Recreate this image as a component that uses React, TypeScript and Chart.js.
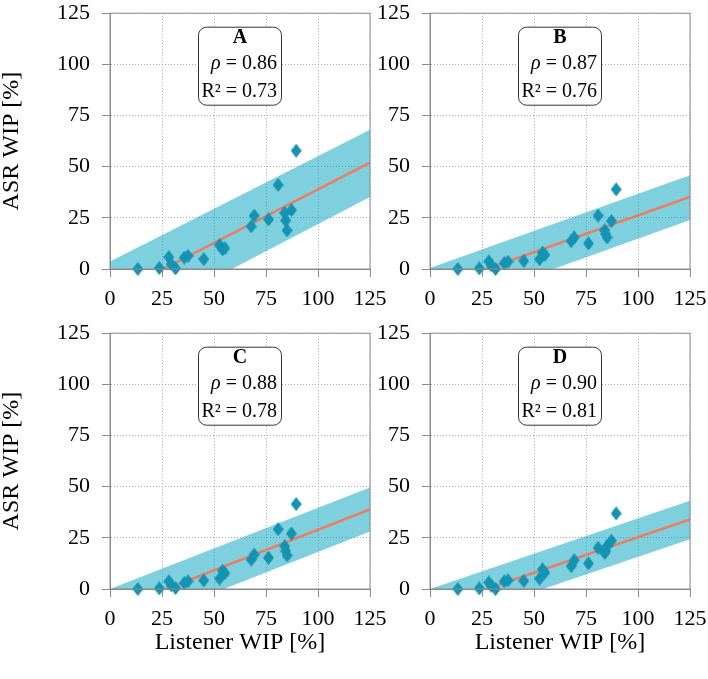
import React, { useEffect, useRef } from 'react';
import { Chart, registerables } from 'chart.js';

Chart.register(...registerables);

// ---------- data ----------
const listenerWIP = [13.4, 23.7, 28.3, 29.4, 31.5, 35.7, 37.5, 45.1, 52.7, 54.1, 55.2, 67.9, 69.3, 76.2, 80.8, 84.0, 84.5, 85.1, 87.2, 89.5];
const asrWipA = [0, 0.5, 5.8, 2.4, 0.3, 5.6, 6.4, 4.8, 11.6, 9.6, 10.1, 20.8, 26.1, 24.2, 41.1, 27.4, 23.7, 18.9, 28.8, 57.8];
const asrWipB = [0, 0.3, 3.7, 1.8, 0, 2.9, 3.5, 4.0, 4.8, 8.0, 6.9, 13.6, 15.4, 12.5, 26.1, 18.9, 17.0, 15.4, 23.4, 38.9];
const asrWipC = [0, 0.3, 3.7, 1.8, 0.5, 2.9, 3.7, 4.2, 5.1, 8.9, 7.7, 14.4, 16.8, 15.3, 29.2, 20.9, 18.5, 16.4, 27.1, 41.5];
const asrWipD = [0, 0.3, 3.2, 1.6, 0, 3.7, 4.2, 4.0, 5.1, 9.6, 8.0, 11.2, 14.0, 12.5, 20.1, 17.6, 18.5, 21.0, 23.6, 36.9];

const panelLabels = ['A', 'B', 'C', 'D'];
const rhoValues = ['0.86', '0.87', '0.88', '0.90'];
const r2Values = ['0.73', '0.76', '0.78', '0.81'];

const fitX = [0, 125];
const fitStartY = [-13.5, -9.8, -10.7, -9.4];
const fitEndY = [52.0, 35.2, 38.9, 34.0];
const bandUpperStart = [3.7, 0.5, 0.0, 0.0];
const bandUpperEnd = [68.0, 45.8, 49.6, 43.1];
const bandLowerStart = [-31.1, -21.7, -21.9, -18.7];
const bandLowerEnd = [35.2, 24.0, 28.1, 24.3];

const axisMin = 0;
const axisMax = 125;
const tickStep = 25;

const yTitle = 'ASR WIP [%]';
const xTitle = 'Listener WIP [%]';

// ---------- styles ----------
const MARKER = '#1493b2';
const BAND = 'rgba(0,162,192,0.5)';
const FIT = '#ef7b5b';
const FRAME = '#8a8a8a';
const GRID = '#a8a8a8';
const FONT = '"Liberation Serif", "Times New Roman", serif';

const seriesList = [asrWipA, asrWipB, asrWipC, asrWipD];

const layouts = [
  { left: 0, top: -12, width: 400, height: 322, padRight: 30, xH: 41, yTitle: true, xTitle: false },
  { left: 320, top: -12, width: 400, height: 322, padRight: 30, xH: 41, yTitle: false, xTitle: false },
  { left: 0, top: 308, width: 400, height: 371, padRight: 30, xH: 90, yTitle: true, xTitle: true },
  { left: 320, top: 308, width: 400, height: 371, padRight: 30, xH: 90, yTitle: false, xTitle: true },
];

function makeDiamond(): HTMLCanvasElement {
  const c = document.createElement('canvas');
  c.width = 11;
  c.height = 14;
  const g = c.getContext('2d')!;
  g.fillStyle = MARKER;
  g.beginPath();
  g.moveTo(5.5, 0);
  g.lineTo(11, 7);
  g.lineTo(5.5, 14);
  g.lineTo(0, 7);
  g.closePath();
  g.fill();
  return c;
}

function roundRect(ctx: CanvasRenderingContext2D, x: number, y: number, w: number, h: number, r: number) {
  ctx.beginPath();
  ctx.moveTo(x + r, y);
  ctx.lineTo(x + w - r, y);
  ctx.arcTo(x + w, y, x + w, y + r, r);
  ctx.lineTo(x + w, y + h - r);
  ctx.arcTo(x + w, y + h, x + w - r, y + h, r);
  ctx.lineTo(x + r, y + h);
  ctx.arcTo(x, y + h, x, y + h - r, r);
  ctx.lineTo(x, y + r);
  ctx.arcTo(x, y, x + r, y, r);
  ctx.closePath();
}

function Panel({ idx }: { idx: number }) {
  const ref = useRef<HTMLCanvasElement | null>(null);
  const L = layouts[idx];

  useEffect(() => {
    if (!ref.current) return;
    const ys = seriesList[idx];
    const points = listenerWIP.map((x, i) => ({ x, y: ys[i] }));
    const fit = [
      { x: fitX[0], y: fitStartY[idx] },
      { x: fitX[1], y: fitEndY[idx] },
    ];
    const upper = [
      { x: fitX[0], y: bandUpperStart[idx] },
      { x: fitX[1], y: bandUpperEnd[idx] },
    ];
    const lower = [
      { x: fitX[0], y: bandLowerStart[idx] },
      { x: fitX[1], y: bandLowerEnd[idx] },
    ];

    const annot = {
      id: 'annot' + idx,
      afterDatasetsDraw(chart: any) {
        const { ctx, chartArea } = chart;
        const { left, right, top, bottom } = chartArea;
        ctx.save();
        // frame
        ctx.strokeStyle = FRAME;
        ctx.lineWidth = 1;
        ctx.strokeRect(left, top, right - left, bottom - top);
        // box
        const cx = (left + right) / 2;
        roundRect(ctx, cx - 41.5, top + 14, 83, 78, 8);
        ctx.fillStyle = '#ffffff';
        ctx.fill();
        ctx.strokeStyle = '#333333';
        ctx.lineWidth = 1;
        ctx.stroke();
        ctx.fillStyle = '#000000';
        ctx.textBaseline = 'middle';
        ctx.textAlign = 'center';
        ctx.font = `bold 20px ${FONT}`;
        ctx.fillText(panelLabels[idx], cx, top + 25);
        const rx = cx + 37;
        ctx.textAlign = 'right';
        ctx.font = `20px ${FONT}`;
        const rest = ' = ' + rhoValues[idx];
        const w2 = ctx.measureText(rest).width;
        ctx.fillText(rest, rx, top + 51);
        ctx.font = `italic 20px ${FONT}`;
        ctx.fillText('\u03c1', rx - w2, top + 51);
        ctx.font = `20px ${FONT}`;
        ctx.fillText('R\u00b2 = ' + r2Values[idx], rx, top + 79);
        ctx.restore();
      },
    };

    const tickFont = { family: FONT, size: 22 };
    const titleFont = { family: FONT, size: 24, lineHeight: 1 };

    const chart = new Chart(ref.current, {
      type: 'scatter',
      data: {
        datasets: [
          {
            type: 'scatter',
            data: points,
            pointStyle: makeDiamond() as any,
            pointRadius: 6,
            pointHoverRadius: 6,
            backgroundColor: MARKER,
            borderColor: MARKER,
            clip: false as any,
            order: 0,
          },
          {
            type: 'line',
            data: fit,
            borderColor: FIT,
            borderWidth: 2.5,
            pointRadius: 0,
            fill: false,
            clip: 0 as any,
            order: 1,
          },
          {
            type: 'line',
            data: upper,
            borderWidth: 0,
            borderColor: 'rgba(0,0,0,0)',
            pointRadius: 0,
            fill: false,
            clip: 0 as any,
            order: 3,
          },
          {
            type: 'line',
            data: lower,
            borderWidth: 0,
            borderColor: 'rgba(0,0,0,0)',
            backgroundColor: BAND,
            pointRadius: 0,
            fill: '-1',
            clip: 0 as any,
            order: 2,
          },
        ] as any,
      },
      options: {
        animation: false,
        responsive: false,
        devicePixelRatio: 1,
        layout: { padding: { top: 20, right: L.padRight, bottom: 0, left: 0 } },
        plugins: {
          legend: { display: false },
          tooltip: { enabled: false },
        },
        events: [],
        scales: {
          x: {
            type: 'linear',
            min: axisMin,
            max: axisMax,
            ticks: { stepSize: tickStep, color: '#000', font: tickFont, padding: 9, maxRotation: 0, autoSkip: false },
            grid: { color: GRID, lineWidth: 1, drawTicks: true, tickLength: 8, tickColor: FRAME, tickWidth: 1 },
            border: { display: true, color: FRAME, width: 1, dash: [1, 2] },
            title: {
              display: L.xTitle,
              text: xTitle,
              color: '#000',
              font: titleFont,
              padding: { top: 0, bottom: 24 },
            },
            afterFit: (s: any) => {
              s.height = L.xH;
            },
          },
          y: {
            type: 'linear',
            min: axisMin,
            max: axisMax,
            ticks: { stepSize: tickStep, color: '#000', font: tickFont, padding: 12 },
            grid: { color: GRID, lineWidth: 1, drawTicks: true, tickLength: 8, tickColor: FRAME, tickWidth: 1 },
            border: { display: true, color: FRAME, width: 1, dash: [1, 2] },
            title: {
              display: L.yTitle,
              text: yTitle,
              color: '#000',
              font: titleFont,
              padding: { top: 0, bottom: 0 },
            },
            afterFit: (s: any) => {
              s.width = 110;
            },
          },
        },
      } as any,
      plugins: [annot],
    });
    return () => chart.destroy();
  }, [idx]);

  return (
    <canvas
      ref={ref}
      width={L.width}
      height={L.height}
      style={{ position: 'absolute', left: L.left, top: L.top, width: L.width, height: L.height }}
    />
  );
}

export default function App() {
  return (
    <div
      style={{
        position: 'absolute',
        left: 0,
        top: 0,
        width: 708,
        height: 679,
        overflow: 'hidden',
        background: '#ffffff',
      }}
    >
      {[0, 1, 2, 3].map((i) => (
        <Panel key={i} idx={i} />
      ))}
    </div>
  );
}
